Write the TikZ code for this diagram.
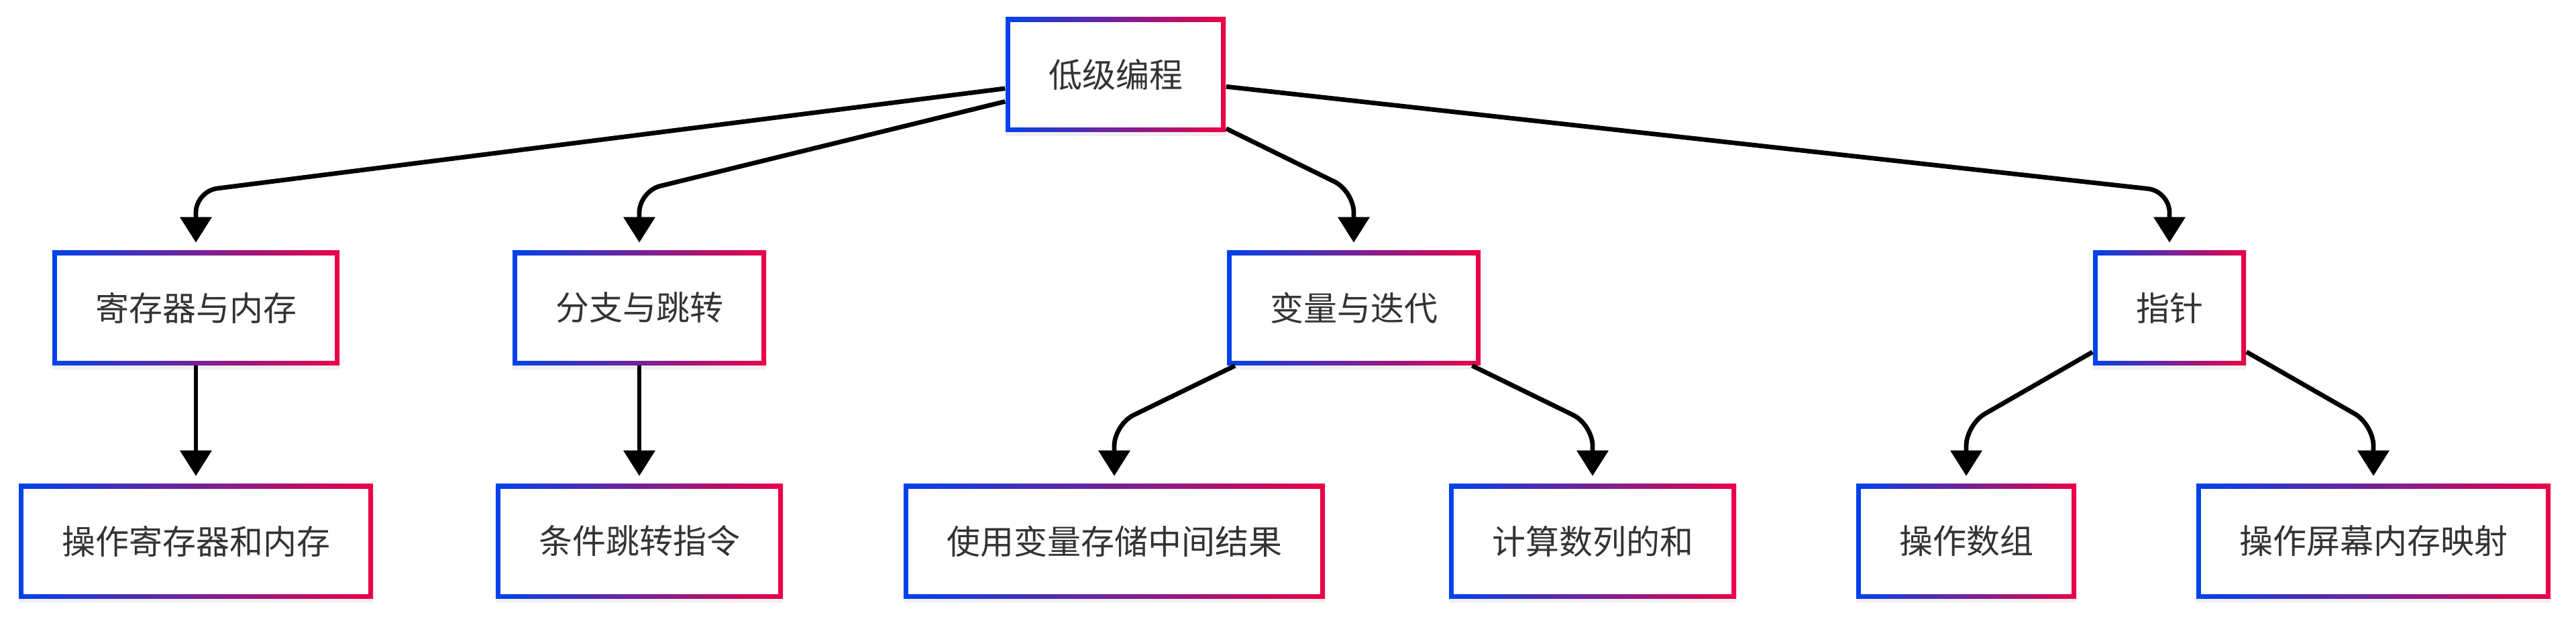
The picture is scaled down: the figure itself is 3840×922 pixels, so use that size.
\documentclass[tikz,border=0pt]{standalone}
\usepackage{fontspec}
\newfontfamily\cjkfont{Noto Sans CJK SC}
\usetikzlibrary{arrows.meta, shadows}

\definecolor{mblue}{RGB}{0,66,235}
\definecolor{mred}{RGB}{235,0,70}
\definecolor{mtext}{RGB}{51,51,51}

\tikzset{
	topic/.style = {fill=white, text=mtext, font=\cjkfont\fontsize{12.5pt}{15pt}\selectfont,
		minimum height=42.75pt, inner xsep=16pt, inner ysep=0pt,
		drop shadow={shadow xshift=0pt, shadow yshift=-1.5pt, opacity=0.12},
		path picture={
			\shade[left color=mblue, right color=mred] (path picture bounding box.south west) rectangle (path picture bounding box.north east);
			\fill[white] ([shift={(1.75pt,1.75pt)}]path picture bounding box.south west) rectangle ([shift={(-1.75pt,-1.75pt)}]path picture bounding box.north east);
		}},
	edge/.style = {line width=1.7pt, rounded corners=8pt, -{Triangle[width=11.5pt, length=9.5pt]}, shorten >=2.75pt}
}

\begin{document}
\begin{tikzpicture}[x=0.25pt, y=-0.25pt]
	\useasboundingbox (0,0) rectangle (3840,922);

	% root
	\node[topic] (prog) at (1663,111) {低级编程};

	% first level
	\node[topic] (reg) at (292,459) {寄存器与内存};
	\node[topic] (branch) at (953,459) {分支与跳转};
	\node[topic] (var) at (2018,459) {变量与迭代};
	\node[topic] (ptr) at (3234,459) {指针};

	% second level
	\node[topic] (regop) at (292,807) {操作寄存器和内存};
	\node[topic] (cond) at (953,807) {条件跳转指令};
	\node[topic] (tmp) at (1661,807) {使用变量存储中间结果};
	\node[topic] (sum) at (2374,807) {计算数列的和};
	\node[topic] (arr) at (2931,807) {操作数组};
	\node[topic] (screen) at (3538,807) {操作屏幕内存映射};

	% bend heights
	\coordinate (bendtop) at (0,285);
	\coordinate (bendlow) at (0,633);

	\draw[edge] (prog) -- (reg |- bendtop) -- (reg);
	\draw[edge] (prog) -- (branch |- bendtop) -- (branch);
	\draw[edge] (prog) -- (var |- bendtop) -- (var);
	\draw[edge] (prog) -- (ptr |- bendtop) -- (ptr);

	\draw[edge] (reg) -- (regop);
	\draw[edge] (branch) -- (cond);
	\draw[edge] (var) -- (tmp |- bendlow) -- (tmp);
	\draw[edge] (var) -- (sum |- bendlow) -- (sum);
	\draw[edge] (ptr) -- (arr |- bendlow) -- (arr);
	\draw[edge] (ptr) -- (screen |- bendlow) -- (screen);
\end{tikzpicture}
\end{document}
